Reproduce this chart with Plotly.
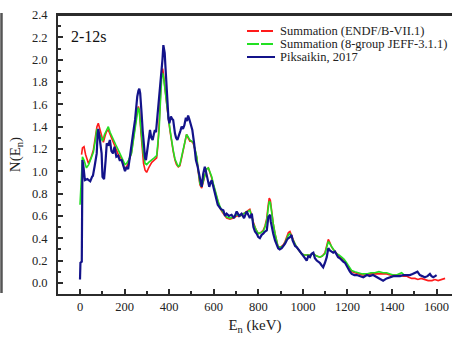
import plotly.graph_objects as go

# ---------------- data ----------------
blue_E = [0, 2, 8, 11, 15, 22, 33, 46, 54, 58, 66, 75, 79, 82, 88, 97, 101, 108, 115, 120, 127, 134, 141, 148, 155, 163, 171, 178, 187, 194, 202, 209, 216, 224, 231, 239, 247, 253, 257, 262, 266, 270, 273, 277, 281, 287, 292, 296, 301, 307, 314, 320, 326, 331, 336, 341, 346, 351, 355, 359, 362, 366, 370, 374, 377, 380, 383, 386, 392, 397, 401, 408, 413, 418, 426, 431, 437, 443, 450, 456, 462, 468, 475, 480, 485, 490, 496, 504, 512, 520, 528, 538, 546, 553, 560, 566, 571, 580, 586, 591, 596, 601, 607, 613, 618, 624, 632, 643, 651, 658, 668, 680, 691, 703, 714, 725, 736, 748, 755, 762, 771, 778, 785, 793, 800, 807, 815, 822, 830, 838, 845, 849, 853, 856, 860, 867, 875, 882, 889, 896, 905, 912, 920, 927, 934, 942, 949, 954, 960, 965, 972, 980, 987, 994, 1002, 1010, 1017, 1024, 1032, 1039, 1047, 1054, 1062, 1069, 1076, 1083, 1091, 1099, 1107, 1114, 1121, 1129, 1136, 1144, 1151, 1158, 1166, 1174, 1181, 1189, 1196, 1204, 1211, 1219, 1231, 1242, 1257, 1271, 1287, 1300, 1315, 1331, 1345, 1360, 1376, 1391, 1406, 1420, 1436, 1451, 1465, 1480, 1492, 1503, 1514, 1525, 1536, 1547, 1559, 1570, 1577, 1585, 1593, 1600]
blue_N = [0.03, 0.18, 0.19, 1.10, 1.05, 0.92, 0.93, 0.91, 0.95, 0.96, 1.05, 1.16, 1.33, 1.38, 1.30, 1.16, 0.95, 0.93, 1.10, 1.25, 1.23, 1.28, 1.18, 1.16, 1.22, 1.13, 1.14, 1.10, 1.10, 1.05, 1.00, 1.04, 1.02, 1.13, 1.25, 1.35, 1.46, 1.60, 1.67, 1.72, 1.74, 1.70, 1.64, 1.50, 1.37, 1.19, 1.12, 1.10, 1.18, 1.25, 1.37, 1.30, 1.28, 1.33, 1.37, 1.35, 1.46, 1.52, 1.61, 1.70, 1.82, 1.90, 2.00, 2.13, 2.10, 2.06, 1.95, 1.82, 1.57, 1.47, 1.43, 1.49, 1.47, 1.46, 1.34, 1.30, 1.28, 1.31, 1.36, 1.40, 1.38, 1.41, 1.48, 1.45, 1.50, 1.47, 1.43, 1.37, 1.25, 1.10, 1.04, 0.92, 0.86, 0.98, 1.04, 0.99, 0.95, 0.86, 0.90, 0.92, 0.88, 0.83, 0.78, 0.74, 0.70, 0.68, 0.66, 0.65, 0.60, 0.62, 0.60, 0.61, 0.58, 0.64, 0.60, 0.62, 0.58, 0.64, 0.61, 0.58, 0.62, 0.50, 0.46, 0.44, 0.41, 0.40, 0.43, 0.44, 0.46, 0.47, 0.59, 0.60, 0.61, 0.55, 0.50, 0.44, 0.38, 0.34, 0.31, 0.30, 0.31, 0.33, 0.35, 0.38, 0.40, 0.41, 0.43, 0.38, 0.35, 0.33, 0.32, 0.30, 0.28, 0.26, 0.25, 0.22, 0.20, 0.24, 0.23, 0.26, 0.27, 0.22, 0.20, 0.19, 0.18, 0.16, 0.14, 0.18, 0.23, 0.31, 0.29, 0.28, 0.27, 0.28, 0.25, 0.23, 0.22, 0.20, 0.19, 0.18, 0.15, 0.13, 0.10, 0.08, 0.07, 0.07, 0.06, 0.05, 0.07, 0.06, 0.07, 0.05, 0.04, 0.02, 0.04, 0.05, 0.06, 0.06, 0.06, 0.07, 0.07, 0.07, 0.08, 0.09, 0.10, 0.07, 0.06, 0.05, 0.06, 0.08, 0.06, 0.05, 0.06, 0.07]

green_E = [0, 5, 11, 18, 29, 39, 49, 60, 69, 75, 82, 94, 101, 110, 120, 127, 135, 149, 160, 172, 184, 194, 202, 209, 218, 231, 240, 247, 255, 261, 265, 273, 279, 284, 292, 299, 308, 322, 333, 344, 350, 355, 359, 363, 367, 371, 375, 381, 389, 396, 404, 411, 418, 426, 433, 441, 448, 456, 464, 471, 478, 485, 493, 500, 508, 516, 524, 531, 538, 546, 553, 560, 568, 576, 584, 591, 598, 605, 612, 620, 627, 636, 647, 658, 673, 688, 704, 719, 734, 749, 762, 771, 778, 789, 800, 811, 822, 830, 838, 844, 849, 854, 860, 867, 875, 882, 889, 900, 912, 920, 927, 935, 942, 949, 957, 964, 972, 983, 994, 1006, 1017, 1032, 1047, 1062, 1076, 1087, 1099, 1107, 1114, 1121, 1129, 1140, 1151, 1162, 1174, 1185, 1196, 1208, 1219, 1233, 1249, 1267, 1286, 1305, 1323, 1341, 1360, 1376, 1391, 1406, 1420, 1435, 1443, 1455, 1465, 1480]
green_N = [0.70, 0.90, 1.13, 1.10, 1.03, 1.06, 1.12, 1.17, 1.28, 1.37, 1.36, 1.30, 1.27, 1.33, 1.38, 1.40, 1.35, 1.28, 1.24, 1.19, 1.14, 1.10, 1.06, 1.07, 1.10, 1.16, 1.28, 1.40, 1.50, 1.57, 1.55, 1.38, 1.24, 1.16, 1.07, 1.06, 1.08, 1.10, 1.12, 1.14, 1.25, 1.37, 1.55, 1.76, 1.86, 1.88, 1.84, 1.74, 1.58, 1.49, 1.37, 1.27, 1.19, 1.11, 1.07, 1.04, 1.06, 1.13, 1.20, 1.28, 1.33, 1.31, 1.28, 1.27, 1.26, 1.20, 1.13, 1.00, 0.89, 0.86, 0.92, 0.98, 1.02, 1.03, 0.99, 0.95, 0.89, 0.83, 0.78, 0.73, 0.69, 0.65, 0.62, 0.59, 0.58, 0.59, 0.61, 0.60, 0.62, 0.64, 0.65, 0.59, 0.53, 0.48, 0.44, 0.45, 0.46, 0.50, 0.56, 0.66, 0.73, 0.72, 0.62, 0.53, 0.44, 0.37, 0.32, 0.32, 0.33, 0.36, 0.40, 0.43, 0.44, 0.41, 0.38, 0.35, 0.32, 0.29, 0.26, 0.25, 0.25, 0.25, 0.26, 0.24, 0.23, 0.24, 0.26, 0.31, 0.37, 0.35, 0.32, 0.29, 0.26, 0.25, 0.23, 0.21, 0.18, 0.14, 0.11, 0.10, 0.09, 0.08, 0.08, 0.09, 0.09, 0.10, 0.09, 0.09, 0.08, 0.07, 0.07, 0.08, 0.09, 0.07, 0.07, 0.07]

red_E = [7, 11, 18, 25, 38, 49, 60, 69, 76, 82, 89, 97, 105, 113, 120, 127, 135, 149, 160, 172, 184, 194, 202, 209, 218, 231, 240, 247, 255, 262, 267, 273, 279, 285, 292, 299, 308, 322, 333, 344, 350, 355, 359, 363, 367, 371, 375, 381, 389, 396, 404, 411, 418, 426, 433, 441, 448, 456, 464, 471, 478, 485, 493, 500, 508, 516, 524, 531, 538, 546, 553, 560, 568, 576, 584, 591, 598, 605, 612, 620, 627, 636, 647, 658, 673, 688, 704, 719, 734, 749, 762, 771, 778, 789, 800, 811, 822, 830, 838, 844, 849, 854, 860, 867, 875, 882, 889, 900, 912, 920, 927, 935, 942, 949, 957, 964, 972, 983, 994, 1006, 1017, 1032, 1047, 1062, 1076, 1087, 1099, 1107, 1114, 1121, 1129, 1140, 1151, 1162, 1174, 1185, 1196, 1208, 1219, 1233, 1249, 1267, 1286, 1305, 1323, 1341, 1360, 1376, 1391, 1406, 1420, 1435, 1450, 1465, 1475, 1488, 1503, 1516, 1531, 1548, 1562, 1579, 1592, 1607, 1622, 1638]
red_N = [1.15, 1.21, 1.22, 1.15, 1.07, 1.12, 1.19, 1.32, 1.40, 1.43, 1.38, 1.30, 1.26, 1.32, 1.36, 1.37, 1.33, 1.25, 1.20, 1.15, 1.12, 1.06, 1.01, 1.04, 1.08, 1.17, 1.30, 1.42, 1.52, 1.58, 1.54, 1.36, 1.18, 1.07, 1.01, 0.99, 1.03, 1.08, 1.10, 1.12, 1.24, 1.38, 1.58, 1.80, 1.90, 1.92, 1.86, 1.74, 1.57, 1.48, 1.36, 1.26, 1.18, 1.10, 1.06, 1.04, 1.05, 1.12, 1.20, 1.28, 1.33, 1.30, 1.27, 1.27, 1.25, 1.19, 1.12, 0.99, 0.88, 0.85, 0.91, 0.98, 1.02, 1.03, 0.99, 0.94, 0.88, 0.82, 0.77, 0.72, 0.68, 0.64, 0.61, 0.58, 0.57, 0.58, 0.60, 0.60, 0.62, 0.64, 0.66, 0.60, 0.54, 0.48, 0.44, 0.45, 0.47, 0.51, 0.58, 0.69, 0.76, 0.74, 0.63, 0.53, 0.44, 0.37, 0.32, 0.32, 0.34, 0.37, 0.41, 0.45, 0.46, 0.42, 0.38, 0.35, 0.32, 0.29, 0.26, 0.25, 0.25, 0.25, 0.26, 0.24, 0.23, 0.24, 0.27, 0.33, 0.39, 0.36, 0.32, 0.29, 0.26, 0.24, 0.22, 0.20, 0.17, 0.13, 0.10, 0.09, 0.08, 0.07, 0.07, 0.08, 0.08, 0.08, 0.08, 0.08, 0.07, 0.07, 0.07, 0.07, 0.06, 0.06, 0.05, 0.04, 0.04, 0.03, 0.04, 0.03, 0.02, 0.02, 0.03, 0.02, 0.03, 0.04]

series_names = ["Summation (ENDF/B-VII.1)", "Summation (8-group JEFF-3.1.1)", "Piksaikin, 2017"]
series_colors = ["#ff1a1a", "#22e022", "#13138a"]
x_ticks = [0, 200, 400, 600, 800, 1000, 1200, 1400, 1600]
y_ticks = [0.0, 0.2, 0.4, 0.6, 0.8, 1.0, 1.2, 1.4, 1.6, 1.8, 2.0, 2.2, 2.4]
panel_label = "2-12s"

SERIF = "Liberation Serif"
AX = "#2b2b2b"
TXT = "#222"

fig = go.Figure()
fig.add_trace(go.Scatter(x=red_E, y=red_N, mode="lines", name=series_names[0],
                         line=dict(color=series_colors[0], width=1.6)))
fig.add_trace(go.Scatter(x=green_E, y=green_N, mode="lines", name=series_names[1],
                         line=dict(color=series_colors[1], width=1.6)))
fig.add_trace(go.Scatter(x=blue_E, y=blue_N, mode="lines", name=series_names[2],
                         line=dict(color=series_colors[2], width=2.2)))

W, H = 452, 337
ml, mr, mt, mb = 58, 0, 15, 43
pw = W - ml - mr
ph = H - mt - mb


def px(x):  # page x pixel -> paper
    return (x - ml) / pw


def py(y):  # page y pixel -> paper
    return 1 - (y - mt) / ph


# compact Origin-style legend rows
legend_rows = [31, 44, 57]
shapes = [
    # frame line along the top of the plot
    dict(type="line", xref="paper", yref="paper", x0=0, x1=1, y0=1, y1=1,
         line=dict(color=AX, width=2)),
    # edge of the neighbouring panel visible at the far left
    dict(type="line", xref="paper", yref="paper", x0=px(1.5), x1=px(1.5), y0=py(13), y1=py(293),
         line=dict(color="#555", width=2.5)),
]
annotations = []
for name, color, yrow, dash in zip(series_names, series_colors, legend_rows,
                                   ["12px,2px", "12px,2px", "solid"]):
    shapes.append(dict(type="line", xref="paper", yref="paper",
                       x0=px(247), x1=px(275), y0=py(yrow), y1=py(yrow),
                       line=dict(color=color, width=2, dash=dash)))
    annotations.append(dict(text=name, xref="paper", yref="paper", x=px(278), y=py(yrow),
                            xanchor="left", yanchor="middle", showarrow=False,
                            font=dict(family=SERIF, size=12.5, color=TXT)))

annotations.append(dict(text=panel_label, xref="paper", yref="paper",
                        x=px(69), y=py(36), xanchor="left", yanchor="middle",
                        showarrow=False, font=dict(family=SERIF, size=16, color="#111")))

fig.update_layout(
    width=W, height=H,
    margin=dict(l=ml, r=mr, t=mt, b=mb, pad=0),
    paper_bgcolor="white", plot_bgcolor="white",
    font=dict(family=SERIF, color=TXT, size=12),
    showlegend=False,
    xaxis=dict(range=[-98.7, 1669], tickvals=x_ticks,
               ticks="inside", ticklen=5, tickwidth=1.5, tickcolor=AX,
               showline=True, linewidth=2, linecolor=AX, mirror=True,
               showgrid=False, zeroline=False, ticklabeloverflow="allow",
               tickfont=dict(family=SERIF, size=12.5, color=TXT),
               minor=dict(tickvals=[v + 100 for v in x_ticks[:-1]], ticks="inside", ticklen=3,
                          tickwidth=1.5, tickcolor=AX),
               title=dict(text="E<sub>n</sub> (keV)", font=dict(family=SERIF, size=15, color=TXT),
                          standoff=6)),
    yaxis=dict(range=[-0.1, 2.4005], tickvals=y_ticks, tickformat=".1f",
               ticks="inside", ticklen=5, tickwidth=1.5, tickcolor=AX,
               showline=True, linewidth=2, linecolor=AX, mirror=False,
               showgrid=False, zeroline=False, ticklabelstandoff=6, ticklabeloverflow="allow",
               tickfont=dict(family=SERIF, size=12.5, color=TXT),
               minor=dict(tickvals=[round(v + 0.1, 2) for v in y_ticks[:-1]], ticks="inside",
                          ticklen=3, tickwidth=1.5, tickcolor=AX),
               title=dict(text="N(E<sub>n</sub>)", font=dict(family=SERIF, size=15, color=TXT),
                          standoff=8)),
    annotations=annotations,
    shapes=shapes,
)

# remove the default 8px page margin so the 452x337 figure fills the window exactly
fig.write_html("out.html",
               config={"displayModeBar": False},
               post_script="document.body.style.margin='0px';document.body.style.overflow='hidden';")
